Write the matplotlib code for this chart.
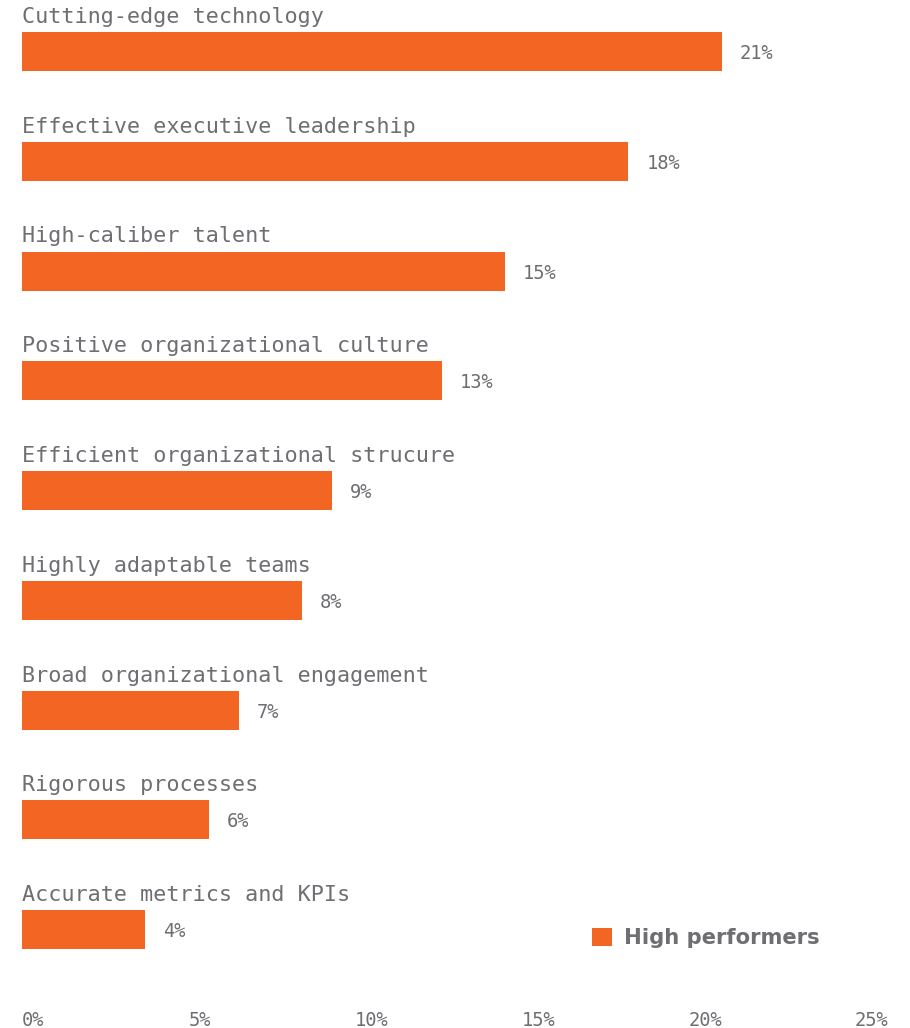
import numpy as np
import matplotlib.pyplot as plt
from matplotlib.patches import Patch

# Data
categories = [
    "Cutting-edge technology",
    "Effective executive leadership",
    "High-caliber talent",
    "Positive organizational culture",
    "Efficient organizational strucure",
    "Highly adaptable teams",
    "Broad organizational engagement",
    "Rigorous processes",
    "Accurate metrics and KPIs",
]
values = [21.0, 18.2, 14.5, 12.6, 9.3, 8.4, 6.5, 5.6, 3.7]
value_labels = ["21%", "18%", "15%", "13%", "9%", "8%", "7%", "6%", "4%"]
x_ticks = [0, 5, 10, 15, 20, 25]
x_tick_labels = ["0%", "5%", "10%", "15%", "20%", "25%"]

orange = "#F26522"
grey = "#6E6E73"
mono = ["DejaVu Sans Mono"]

fig = plt.figure(figsize=(9.1, 10.28), dpi=100)
W, H = 910, 1028
# axes spans pixel x 22..855, y 0..1005
ax = fig.add_axes([22 / W, 1 - 1005 / H, 833 / W, 1005 / H])

step = 109.75
y = np.arange(len(categories))
ax.barh(y, values, height=39 / step, color=orange, align="center")

for i in range(len(categories)):
    ax.text(0, y[i] - 34.5 / step, categories[i], ha="left", va="center",
            fontsize=15.7, color=grey, family=mono)
    ax.text(values[i] + 18 / 33.32, y[i] + 0.02, value_labels[i], ha="left",
            va="center", fontsize=13.5, color=grey, family=mono)

ax.set_xlim(0, 25)
ax.set_ylim((1005 - 51.5) / step, -51.5 / step)

ax.set_xticks(x_ticks)
ax.set_xticklabels(x_tick_labels, fontsize=13.5, color=grey, family=mono)
for lbl in ax.get_xticklabels():
    lbl.set_horizontalalignment("left")
ax.tick_params(axis="x", length=0, pad=4)
ax.set_yticks([])
for s in ax.spines.values():
    s.set_visible(False)

# legend
handles = [Patch(facecolor=orange, edgecolor="none", label="High performers")]
leg = fig.legend(handles=handles, loc="center left",
                 bbox_to_anchor=(592 / W, 1 - 938 / H), frameon=False,
                 borderpad=0, borderaxespad=0,
                 handlelength=0.95, handleheight=0.95, handletextpad=0.57,
                 prop={"family": "DejaVu Sans", "weight": "bold", "size": 15.2})
for t in leg.get_texts():
    t.set_color(grey)

plt.savefig("out.png", dpi=100)
